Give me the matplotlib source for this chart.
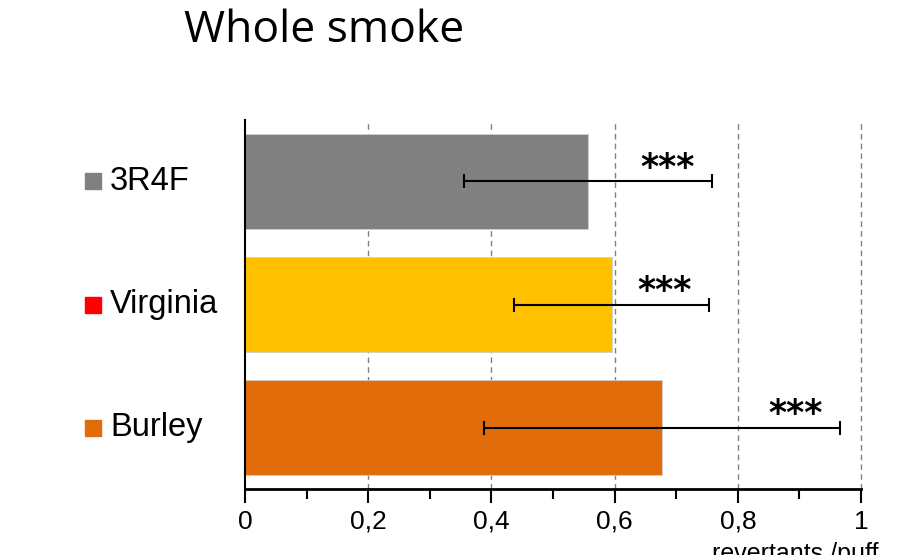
import matplotlib
matplotlib.use('Agg')
from matplotlib import pyplot as plt
import numpy as np

# data
categories = ['3R4F', 'Virginia', 'Burley']
values = [0.557, 0.595, 0.677]
errors = [0.201, 0.158, 0.289]
bar_colors = ['#808080', '#FFC000', '#E36C0A']
marker_colors = ['#808080', '#FF0000', '#E36C0A']
signif = ['***', '***', '***']
xticks = [0, 0.2, 0.4, 0.6, 0.8, 1.0]
xtick_labels = ['0', '0,2', '0,4', '0,6', '0,8', '1']

plt.rcParams['font.family'] = ['Liberation Sans', 'DejaVu Sans']

fig = plt.figure(figsize=(9.16, 5.55), dpi=100)
ax = fig.add_axes([0.2675, 0.1189, 0.6725, 0.6649])

ypos = np.arange(len(categories))[::-1]

ax.barh(ypos, values, height=0.77, color=bar_colors, edgecolor='#d0d0d0',
        linewidth=0.6, zorder=2)
ax.errorbar(values, ypos, xerr=errors, fmt='none', ecolor='black',
            elinewidth=1.5, capsize=5, capthick=1.5, zorder=3)

# significance stars, placed just left of the upper error cap
for y, v, e, s in zip(ypos, values, errors, signif):
    ax.text(v + e - 0.072, y + 0.11, s, ha='center', va='center',
            fontsize=25, fontweight='semibold', family=['DejaVu Sans'], zorder=4)

# category labels with coloured squares
for y, name, c in zip(ypos, categories, marker_colors):
    ax.plot([-0.247], [y], marker='s', markersize=11.5, color=c,
            transform=ax.get_yaxis_transform(), clip_on=False)
    ax.text(-0.219, y, name, ha='left', va='center', fontsize=23.5,
            transform=ax.get_yaxis_transform())

ax.set_xlim(0, 1)
ax.set_ylim(-0.5, 2.5)
ax.set_xticks(xticks)
ax.set_xticklabels(xtick_labels, fontsize=19)
ax.set_xticks(np.arange(0.1, 1.0, 0.2), minor=True)
ax.set_yticks([])
ax.tick_params(axis='x', which='major', direction='out', length=10, width=1.5, pad=5)
ax.tick_params(axis='x', which='minor', direction='out', length=7, width=1.5)

for x in xticks[1:]:
    ax.axvline(x, color='#808080', linestyle=(0, (4, 3)), linewidth=1,
               zorder=1, clip_on=False)

ax.spines['top'].set_visible(False)
ax.spines['right'].set_visible(False)
ax.spines['bottom'].set_linewidth(2)
ax.spines['left'].set_linewidth(1.5)

fig.text(0.354, 0.944, 'Whole smoke', ha='center', va='center', fontsize=32,
         family=['Open Sans', 'DejaVu Sans'])
fig.text(0.777, 0.024, 'revertants /puff', ha='left', va='top', fontsize=18)

fig.savefig('out.png', dpi=100)
